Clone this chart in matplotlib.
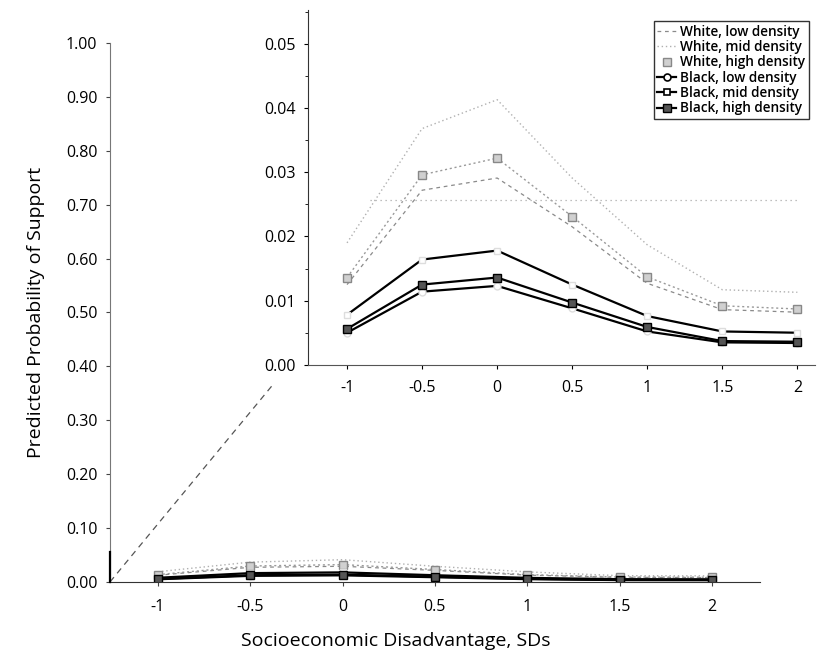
import matplotlib
matplotlib.use("Agg")
import matplotlib.pyplot as plt
from matplotlib.lines import Line2D
from matplotlib.ticker import MultipleLocator

plt.rcParams["font.family"] = ["Open Sans", "DejaVu Sans"]

# ── Data ─────────────────────────────────────────────────────────
sd = [-1, -0.5, 0, 0.5, 1, 1.5, 2]
sd_labels = ["-1", "-0.5", "0", "0.5", "1", "1.5", "2"]

white_low = [0.0125, 0.0272, 0.0291, 0.0215, 0.0127, 0.0086, 0.0082]
white_mid = [0.0190, 0.0368, 0.0413, 0.0291, 0.0187, 0.0117, 0.0113]
white_high = [0.0136, 0.0296, 0.0322, 0.0231, 0.0137, 0.0092, 0.0087]
black_low = [0.0050, 0.0114, 0.0123, 0.0088, 0.0052, 0.0035, 0.0034]
black_mid = [0.0078, 0.0164, 0.0178, 0.0125, 0.0076, 0.0052, 0.0050]
black_high = [0.0056, 0.0125, 0.0136, 0.0097, 0.0059, 0.0037, 0.0036]

main_yticks = [0.0, 0.1, 0.2, 0.3, 0.4, 0.5, 0.6, 0.7, 0.8, 0.9, 1.0]
inset_yticks = [0.0, 0.01, 0.02, 0.03, 0.04, 0.05]
stray_level = 0.0256   # faint dotted line visible across the inset

series = [
    ("White, low density", white_low,
     dict(color="#8a8a8a", linestyle=(0, (3, 3)), linewidth=0.9, marker=None)),
    ("White, mid density", white_mid,
     dict(color="#b0b0b0", linestyle=(0, (1, 2)), linewidth=1.0, marker=None)),
    ("White, high density", white_high,
     dict(color="#9a9a9a", linestyle=(0, (1.5, 2)), linewidth=1.0, marker="s",
          markersize=6, markerfacecolor="#d0d0d0", markeredgecolor="#888888")),
    ("Black, low density", black_low,
     dict(color="black", linestyle="-", linewidth=1.6, marker="o",
          markersize=5, markerfacecolor="white", markeredgecolor="#dddddd")),
    ("Black, mid density", black_mid,
     dict(color="black", linestyle="-", linewidth=1.6, marker="s",
          markersize=5, markerfacecolor="white", markeredgecolor="#dddddd")),
    ("Black, high density", black_high,
     dict(color="black", linestyle="-", linewidth=1.6, marker="s",
          markersize=6, markerfacecolor="#555555", markeredgecolor="black")),
]

fig = plt.figure(figsize=(8.17, 6.55), dpi=100)

# ── Main axes: full 0-1 probability scale ────────────────────────
ax = fig.add_axes([0.1346, 0.1115, 0.7955, 0.8230])
for name, vals, style in series:
    ax.plot(sd, vals, label=name, **style)

ax.set_xlim(-1.26, 2.26)
ax.set_ylim(0, 1.0)
ax.set_xticks(sd)
ax.set_xticklabels(sd_labels)
ax.set_yticks(main_yticks)
ax.set_yticklabels([f"{v:.2f}" for v in main_yticks])
ax.tick_params(labelsize=11.5, length=3, width=0.8, color="#444", pad=6)
ax.tick_params(axis="x", pad=9)
for side in ("top", "right"):
    ax.spines[side].set_visible(False)
ax.spines["left"].set_color("#777")
ax.spines["bottom"].set_color("#333")
ax.set_ylabel("Predicted Probability of Support", fontsize=14)
ax.set_xlabel("Socioeconomic Disadvantage, SDs", fontsize=14)
ax.xaxis.set_label_coords(0.44, -0.092)
ax.yaxis.set_label_coords(-0.1, 0.5)

# ── Inset: zoom on 0-0.055 ───────────────────────────────────────
ins = fig.add_axes([0.377, 0.443, 0.621, 0.542])
for name, vals, style in series:
    ins.plot(sd, vals, **style)
ins.hlines(stray_level, -0.85, 2.0, color="#aaaaaa", linestyle=(0, (1, 3)), linewidth=0.9)

ins.set_xlim(-1.26, 2.12)
ins.set_ylim(0, 0.0553)
ins.set_xticks(sd)
ins.set_xticklabels(sd_labels)
ins.set_yticks(inset_yticks)
ins.set_yticklabels([f"{v:.2f}" for v in inset_yticks])
ins.yaxis.set_minor_locator(MultipleLocator(0.005))
ins.tick_params(labelsize=11.5, length=3, width=0.8, pad=6)
ins.tick_params(axis="x", pad=8)
ins.tick_params(which="minor", length=2)
ins.patch.set_alpha(0)
for side in ("top", "right"):
    ins.spines[side].set_visible(False)
ins.spines["left"].set_color("#333")
ins.spines["bottom"].set_color("#555")

# zoom connector: bracket on main axis and dashed guide toward inset
ylo, yhi = ins.get_ylim()
ax.plot([ax.get_xlim()[0]] * 2, [ylo, yhi], color="black", linewidth=1.6,
        clip_on=False, zorder=5)
ax.plot([0, 0.25], [0, 0.365], transform=ax.transAxes, color="#555",
        linestyle=(0, (5, 4)), linewidth=0.9)

# ── Legend (proxy handles so open markers show their outline) ────
handles = []
for name, vals, style in series:
    st = dict(style)
    if name in ("Black, low density", "Black, mid density"):
        st["markeredgecolor"] = "black"
        st["markeredgewidth"] = 1.2
    if name == "White, high density":
        st["linestyle"] = "none"
    handles.append(Line2D([], [], label=name, **st))
leg = fig.legend(handles=handles, loc="upper right", bbox_to_anchor=(0.998, 0.978),
                 frameon=True, fancybox=False, handlelength=1.4,
                 handletextpad=0.3, borderpad=0.25, labelspacing=0.1,
                 prop={"size": 9.8, "weight": "semibold"})
leg.get_frame().set_edgecolor("black")
leg.get_frame().set_linewidth(1.0)

fig.savefig("out.png", dpi=100)
